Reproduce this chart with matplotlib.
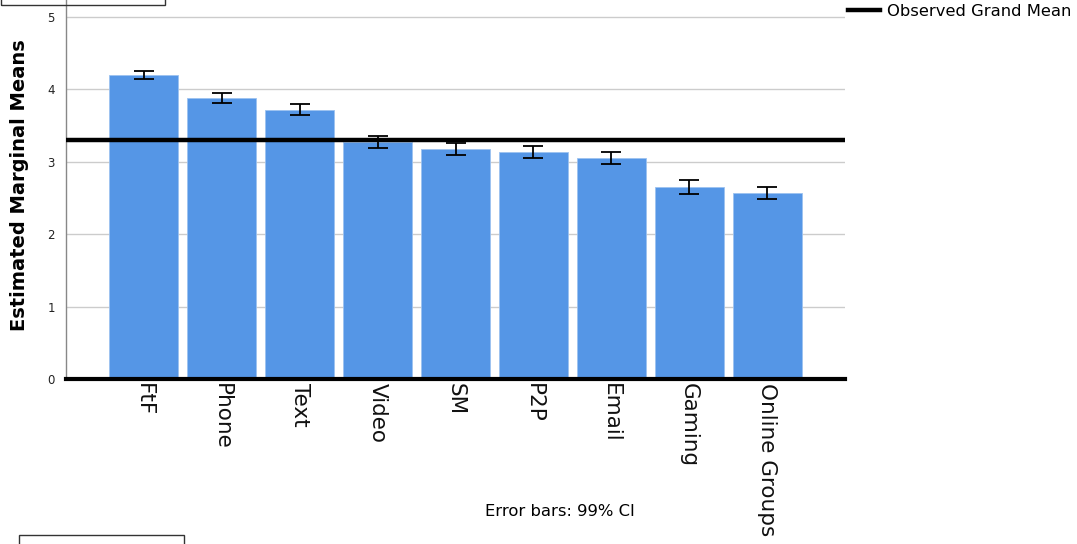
import matplotlib
matplotlib.use("Agg")
import matplotlib.pyplot as plt
from matplotlib.patches import Rectangle
from matplotlib.lines import Line2D

categories = ["FtF", "Phone", "Text", "Video", "SM", "P2P", "Email", "Gaming", "Online Groups"]
means = [4.20, 3.88, 3.72, 3.27, 3.18, 3.14, 3.05, 2.65, 2.57]
ci99 = [0.06, 0.067, 0.076, 0.085, 0.083, 0.083, 0.083, 0.092, 0.085]
grand_mean = 3.30
yticks = [0, 1, 2, 3, 4, 5]

fig = plt.figure(figsize=(10.77, 5.44), dpi=100)
ax = fig.add_axes([0.0613, 0.3033, 0.7233, 0.6967])

x = list(range(len(categories)))
ax.bar(x, means, width=0.885, color="#5596E6", edgecolor="#9cc2f0", linewidth=0.6, zorder=2)
ax.errorbar(x, means, yerr=ci99, fmt="none", ecolor="black", elinewidth=1.3,
            capsize=7, capthick=1.3, zorder=4)
ax.axhline(grand_mean, color="black", linewidth=3.2, zorder=5)

ax.set_xlim(-1, len(categories))
ax.set_ylim(0, 5.235)
ax.set_yticks(yticks)
ax.set_yticklabels([str(t) for t in yticks], fontsize=8.5, color="#222222")
ax.yaxis.grid(True, color="#cccccc", linewidth=1.0, zorder=0)
ax.set_axisbelow(True)
ax.tick_params(axis="y", length=0, pad=8)
ax.set_xticks(x)
ax.set_xticklabels(categories, rotation=270, fontsize=15.5, color="#111111")
ax.tick_params(axis="x", length=0, pad=3)

for s in ["top", "right"]:
    ax.spines[s].set_visible(False)
ax.spines["left"].set_color("#888888")
ax.spines["left"].set_linewidth(1.0)
ax.spines["bottom"].set_color("black")
ax.spines["bottom"].set_linewidth(3.0)
ax.spines["bottom"].set_zorder(6)

ax.set_ylabel("Estimated Marginal Means", fontsize=14, fontweight="bold")
ax.yaxis.set_label_coords(-0.047, 0.512)

fig.text(560 / 1077, 1 - 511 / 544, "Error bars: 99% CI", ha="center", va="center", fontsize=11.8)

# legend
fig.add_artist(Line2D([848 / 1077, 880 / 1077], [1 - 10 / 544, 1 - 10 / 544],
                      color="black", linewidth=3.2, transform=fig.transFigure))
fig.text(887 / 1077, 1 - 11 / 544, "Observed Grand Mean", ha="left", va="center", fontsize=11.8)

# boxes (frame artifacts)
fig.add_artist(Rectangle((0.5 / 1077, 1 - 5 / 544), 164 / 1077, 10 / 544, fill=False,
                         edgecolor="#333333", linewidth=1.0, transform=fig.transFigure))
fig.add_artist(Rectangle((18.5 / 1077, -5 / 544), 165 / 1077, 14 / 544,
                         fill=False, edgecolor="#333333", linewidth=1.0, transform=fig.transFigure))

fig.savefig("out.png", dpi=100)
